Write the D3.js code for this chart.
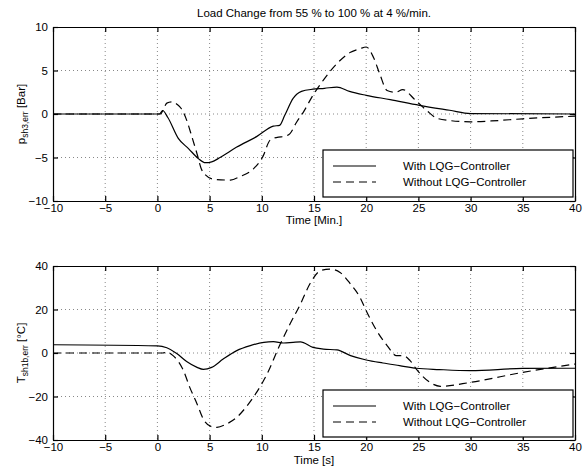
<!DOCTYPE html>
<html>
<head>
<meta charset="utf-8">
<script src="https://cdn.jsdelivr.net/npm/d3@7"></script>
<style>
  html, body { margin: 0; padding: 0; background: #fff; }
  svg { display: block; font-family: "Liberation Sans", Arial, Helvetica, sans-serif; }
</style>
</head>
<body>
<svg id="chart" width="588" height="473"></svg>
<script>
// ---- data -------------------------------------------------------------
const xTicks = [-10, -5, 0, 5, 10, 15, 20, 25, 30, 35, 40];
const pTicks = [-10, -5, 0, 5, 10];
const tTicks = [-40, -20, 0, 20, 40];
const legendLabels = ["With LQG\u2212Controller", "Without LQG\u2212Controller"];

// steam pressure error, with controller
const pWithTime = [-10, 0.2, 0.5, 1.0, 2.0, 3.0, 3.9, 4.6, 5.2, 6.0, 7.6, 9.5, 11.1, 11.7, 12.2, 13.0, 13.8, 14.9, 16.0, 17.2, 18.4, 20.0, 22.3, 25.1, 28.0, 30.0, 40];
const pWith     = [0, 0, 0.4, -0.4, -2.8, -4.0, -5.1, -5.6, -5.5, -5.0, -3.8, -2.6, -1.4, -1.3, -0.15, 1.8, 2.6, 2.85, 2.95, 3.1, 2.6, 2.15, 1.65, 1.0, 0.43, 0.05, 0];

// steam pressure error, without controller
const pWithoutTime = [-10, 0.3, 0.6, 0.9, 1.4, 1.9, 2.3, 2.8, 3.3, 3.8, 4.2, 4.6, 5.4, 7.0, 7.9, 9.2, 10.1, 10.8, 11.6, 12.1, 12.7, 13.3, 14.0, 14.9, 15.9, 17.2, 18.5, 19.4, 20.0, 20.7, 21.3, 22.0, 22.8, 23.5, 24.7, 25.8, 26.8, 28.0, 30.0, 32.0, 35.0, 40];
const pWithout     = [0, 0, 0.6, 1.25, 1.4, 1.1, 0.6, -0.7, -2.6, -4.6, -6.3, -7.0, -7.5, -7.6, -7.2, -6.3, -4.9, -3.0, -2.65, -2.6, -2.25, -1.0, 0.25, 2.15, 3.9, 5.8, 7.1, 7.5, 7.7, 6.5, 4.6, 2.7, 2.5, 2.8, 1.6, 0.4, -0.5, -0.75, -0.9, -0.8, -0.55, -0.25];

// superheater temperature error, with controller
const tWithTime = [-10, 0, 0.9, 1.85, 2.8, 3.8, 4.4, 5.2, 6.3, 7.6, 8.9, 10.2, 11.1, 12.1, 13.0, 13.7, 14.9, 15.9, 17.2, 18.5, 20.0, 21.6, 23.2, 24.8, 27.0, 30.0, 35.0, 40];
const tWith     = [3.8, 3.3, 2.4, -0.2, -3.9, -6.6, -7.5, -6.6, -2.8, 1.1, 3.4, 4.9, 5.2, 4.6, 4.9, 5.1, 2.6, 1.8, 1.4, -1.2, -3.2, -4.6, -5.8, -7.0, -7.6, -8.1, -7.1, -7.0];

// superheater temperature error, without controller
const tWithoutTime = [-10, 0.5, 0.9, 1.5, 2.5, 3.1, 3.8, 4.4, 5.2, 5.7, 6.6, 7.6, 8.6, 9.5, 10.5, 11.7, 12.7, 13.7, 14.6, 15.6, 16.5, 17.5, 18.5, 19.4, 20.0, 21.0, 22.0, 22.9, 23.6, 24.2, 24.8, 26.1, 27.1, 30.0, 35.0, 40];
const tWithout     = [0, 0, 0.3, -1.2, -8.1, -15.8, -23.4, -30.4, -33.9, -34.2, -32.7, -29.6, -24.2, -18.1, -9.7, 3.4, 13.3, 22.5, 31.7, 37.8, 38.6, 37.0, 31.7, 25.6, 19.4, 10.3, 3.4, -1.2, -1.3, -3.5, -7.4, -13.5, -15.3, -13.5, -8.9, -5.1];

// ---- drawing ----------------------------------------------------------
const svg = d3.select("#chart");
const FS = 11.5;
const DASH = "8,5";
const LW = 1.2;

const x = d3.scaleLinear().domain([-10, 40]).range([53, 575]);

function zip(ts, vs) { return ts.map((t, i) => [t, vs[i]]); }

function panel(opts) {
  const y = d3.scaleLinear().domain(opts.domain).range(opts.range);
  const g = svg.append("g");
  const [x0, x1] = x.range();
  const [yb, yt] = y.range();

  // background
  g.append("rect").attr("x", x0).attr("y", yt).attr("width", x1 - x0).attr("height", yb - yt).attr("fill", "#fff");

  // dotted grid
  const grid = g.append("g").attr("stroke", "#6a6a6a").attr("stroke-width", 0.8).attr("stroke-dasharray", "1,3");
  grid.selectAll("line.v").data(xTicks.slice(1, -1)).join("line")
    .attr("x1", d => x(d)).attr("x2", d => x(d)).attr("y1", yt).attr("y2", yb);
  grid.selectAll("line.h").data(opts.ticks.slice(1, -1)).join("line")
    .attr("x1", x0).attr("x2", x1).attr("y1", d => y(d)).attr("y2", d => y(d));

  // curves
  const line = d3.line().x(d => x(d[0])).y(d => y(d[1])).curve(d3.curveMonotoneX);
  g.append("path").datum(zip(opts.withoutT, opts.without))
    .attr("d", line).attr("fill", "none").attr("stroke", "#000").attr("stroke-width", LW)
    .attr("stroke-dasharray", DASH);
  g.append("path").datum(zip(opts.withT, opts.with))
    .attr("d", line).attr("fill", "none").attr("stroke", "#000").attr("stroke-width", LW);

  // axes with inward ticks on all four sides
  const axB = d3.axisBottom(x).tickValues(xTicks).tickSizeInner(-5).tickSizeOuter(0).tickPadding(3);
  const axL = d3.axisLeft(y).tickValues(opts.ticks).tickSizeInner(-5).tickSizeOuter(0).tickPadding(5);
  const axT = d3.axisTop(x).tickValues(xTicks).tickSizeInner(-5).tickSizeOuter(0).tickFormat("");
  const axR = d3.axisRight(y).tickValues(opts.ticks).tickSizeInner(-5).tickSizeOuter(0).tickFormat("");
  const style = sel => {
    sel.selectAll("path, line").attr("stroke", "#000").attr("stroke-width", LW);
    sel.selectAll("text").attr("fill", "#000").style("font-size", FS + "px")
      .style("font-family", '"Liberation Sans", Arial, Helvetica, sans-serif');
  };
  g.append("g").attr("transform", `translate(0,${yb})`).call(axB).call(style);
  g.append("g").attr("transform", `translate(${x0},0)`).call(axL).call(style);
  g.append("g").attr("transform", `translate(0,${yt})`).call(axT).call(style);
  g.append("g").attr("transform", `translate(${x1},0)`).call(axR).call(style);

  // x label
  g.append("text").attr("x", (x0 + x1) / 2).attr("y", opts.xlabelY)
    .attr("text-anchor", "middle").style("font-size", FS + "px").text(opts.xlabel);

  // y label with subscript
  const yl = g.append("text")
    .attr("transform", `translate(${opts.ylabelX},${(yt + yb) / 2}) rotate(-90)`)
    .attr("text-anchor", "middle").style("font-size", FS + "px");
  yl.append("tspan").text(opts.ysym);
  yl.append("tspan").attr("dy", 3).style("font-size", "8.5px").text(opts.ysub);
  yl.append("tspan").attr("dy", -3).text(" " + opts.yunit);

  // legend
  const L = opts.legend;
  const lg = g.append("g");
  lg.append("rect").attr("x", L.x).attr("y", L.y).attr("width", L.w).attr("height", L.h)
    .attr("fill", "#fff").attr("stroke", "#000").attr("stroke-width", LW);
  legendLabels.forEach((lab, i) => {
    const cy = L.y + 16 + i * 16;
    lg.append("line").attr("x1", L.x + 10).attr("x2", L.x + 53).attr("y1", cy).attr("y2", cy)
      .attr("stroke", "#000").attr("stroke-width", LW)
      .attr("stroke-dasharray", i === 1 ? DASH : null);
    lg.append("text").attr("x", L.x + 80).attr("y", cy).attr("dy", "0.35em")
      .style("font-size", FS + "px").text(lab);
  });
}

// title
svg.append("text").attr("x", 314).attr("y", 17).attr("text-anchor", "middle")
  .style("font-size", "11.5px").text("Load Change from 55 % to 100 % at 4 %/min.");

panel({
  domain: [-10, 10], range: [201, 27], ticks: pTicks,
  withT: pWithTime, with: pWith, withoutT: pWithoutTime, without: pWithout,
  xlabel: "Time [Min.]", xlabelY: 224,
  ysym: "p", ysub: "sh3,err", yunit: "[Bar]", ylabelX: 25,
  legend: { x: 323, y: 150, w: 250, h: 47 }
});

panel({
  domain: [-40, 40], range: [440, 266], ticks: tTicks,
  withT: tWithTime, with: tWith, withoutT: tWithoutTime, without: tWithout,
  xlabel: "Time [s]", xlabelY: 464,
  ysym: "T", ysub: "sh1b,err", yunit: "[\u00B0C]", ylabelX: 25,
  legend: { x: 323, y: 390, w: 250, h: 47 }
});
</script>
</body>
</html>
